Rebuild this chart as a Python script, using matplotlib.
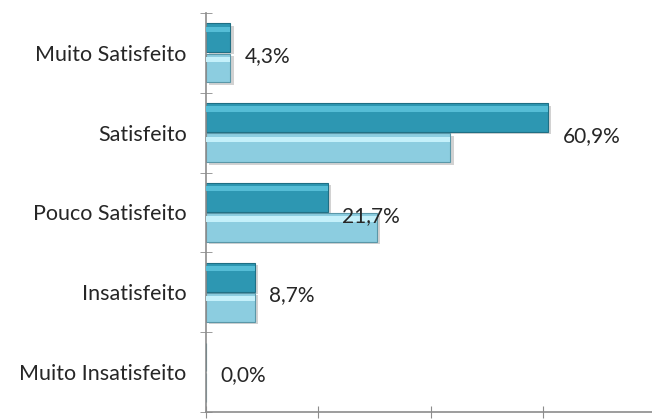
import matplotlib
matplotlib.use("Agg")
import matplotlib.pyplot as plt
import numpy as np

categorias = ["Muito Satisfeito", "Satisfeito", "Pouco Satisfeito",
              "Insatisfeito", "Muito Insatisfeito"]
serie_a = [4.3, 60.9, 21.7, 8.7, 0.0]    # dark bars (labelled)
serie_b = [4.3, 43.5, 30.4, 8.7, 0.0]    # light bars
rotulos = ["4,3%", "60,9%", "21,7%", "8,7%", "0,0%"]

plt.rcParams['font.family'] = ['Lato', 'DejaVu Sans']

fig = plt.figure(figsize=(6.52, 4.19), dpi=100)
ax = fig.add_axes([206/652, 7/419, 1 - 206/652, 399/419])

y = np.arange(len(categorias))
h = 0.36
dark, light = "#2d97b2", "#8ccde0"

# shadows
ax.barh(y - 0.19 + 0.03, serie_a, height=h, left=0.6, color="#d2d2d2", zorder=1)
ax.barh(y + 0.19 + 0.03, serie_b, height=h, left=0.6, color="#d2d2d2", zorder=1)
# bars
ax.barh(y - 0.19, serie_a, height=h, color=dark, edgecolor="#1f6f84", lw=0.8, zorder=2)
ax.barh(y + 0.19, serie_b, height=h, color=light, edgecolor="#5a97a8", lw=0.8, zorder=2)
# top highlight for a bevel look
ax.barh(y - 0.19 - h*0.3, serie_a, height=h*0.18, color="#55bdd6", lw=0, zorder=3)
ax.barh(y + 0.19 - h*0.3, serie_b, height=h*0.18, color="#c4f0fa", lw=0, zorder=3)

for yi, v, t in zip(y, serie_a, rotulos):
    ax.text(v + 2.6, yi + 0.04, t, va="center", ha="left", fontsize=15, color="#262626")

ax.set_xlim(0, 79.4)
ax.set_ylim(len(categorias) - 0.5, -0.5)
ax.set_yticks(y)
ax.set_yticklabels(categorias, fontsize=15.5, color="#262626")
ax.set_yticks(np.arange(-0.5, len(categorias)), minor=True)
ax.set_xticks([0, 20, 40, 60])
ax.set_xticklabels([])
ax.tick_params(axis="y", which="major", length=0, pad=14)
ax.tick_params(axis="y", which="minor", length=8, direction="inout", color="#8c8c8c")
ax.tick_params(axis="x", length=9, direction="inout", color="#8c8c8c")

for s in ["top", "right"]:
    ax.spines[s].set_visible(False)
for s in ["left", "bottom"]:
    ax.spines[s].set_color("#8c8c8c")
    ax.spines[s].set_linewidth(1.2)

fig.savefig("out.png", dpi=100)
